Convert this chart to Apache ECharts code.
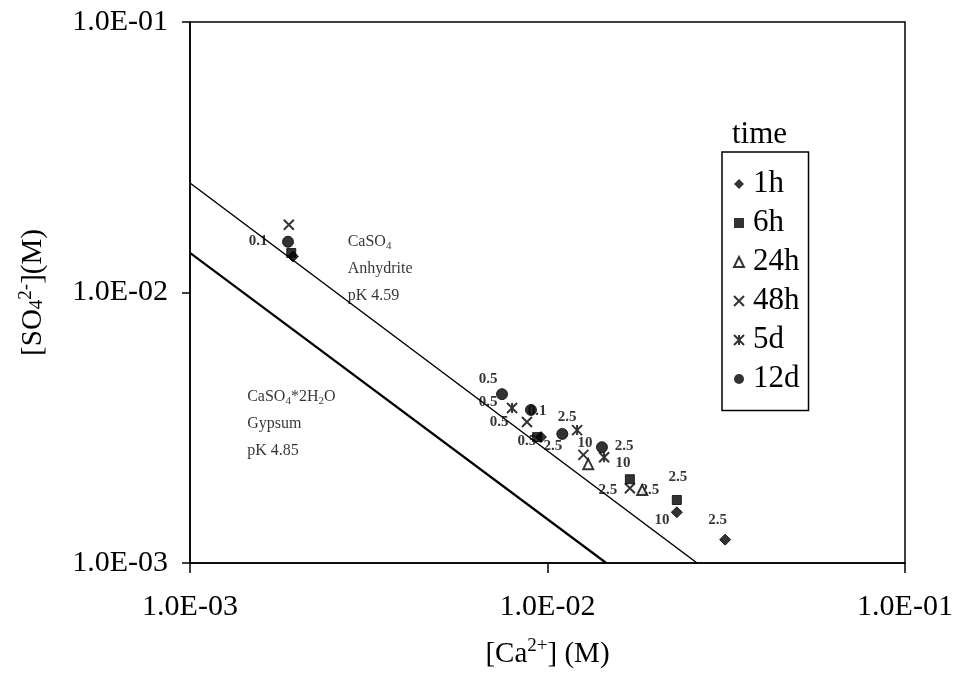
<!DOCTYPE html>
<html><head><meta charset="utf-8">
<script src="https://cdn.jsdelivr.net/npm/echarts@6/dist/echarts.min.js"></script>
<style>html,body{margin:0;padding:0;background:#fff}#c{width:953px;height:685px}</style>
</head><body><div id="c"></div>
<script>
// ---- data ----
const seriesNames = ['1h', '6h', '24h', '48h', '5d', '12d'];
const d1h  = [[1.94e-3, 1.36e-2], [9.59e-3, 2.92e-3], [2.30e-2, 1.54e-3], [3.14e-2, 1.22e-3]];
const d6h  = [[1.92e-3, 1.40e-2], [9.35e-3, 2.92e-3], [1.70e-2, 2.04e-3], [2.30e-2, 1.71e-3]];
const d24h = [[1.30e-2, 2.32e-3], [1.84e-2, 1.86e-3]];
const d48h = [[1.89e-3, 1.78e-2], [8.76e-3, 3.32e-3], [1.26e-2, 2.51e-3], [1.70e-2, 1.89e-3]];
const d5d  = [[7.96e-3, 3.74e-3], [1.21e-2, 3.10e-3], [1.44e-2, 2.46e-3]];
const d12d = [[1.88e-3, 1.54e-2], [7.46e-3, 4.21e-3], [8.99e-3, 3.68e-3], [1.10e-2, 3.00e-3], [1.42e-2, 2.68e-3]];
const anhydriteLine = [[1e-3, 2.54e-2], [2.62e-2, 1e-3]];
const gypsumLine    = [[1e-3, 1.40e-2], [1.46e-2, 1e-3]];
const pointLabels = [
  [1.55e-3, 1.55e-2, '0.1'],
  [6.82e-3, 4.79e-3, '0.5'],
  [6.82e-3, 3.94e-3, '0.5'],
  [7.32e-3, 3.32e-3, '0.5'],
  [9.35e-3, 3.65e-3, '0.1'],
  [8.76e-3, 2.82e-3, '0.5'],
  [1.036e-2, 2.71e-3, '2.5'],
  [1.134e-2, 3.46e-3, '2.5'],
  [1.273e-2, 2.78e-3, '10'],
  [1.637e-2, 2.71e-3, '2.5'],
  [1.626e-2, 2.34e-3, '10'],
  [1.476e-2, 1.86e-3, '2.5'],
  [1.935e-2, 1.86e-3, '2.5'],
  [2.317e-2, 2.08e-3, '2.5'],
  [2.09e-2, 1.44e-3, '10'],
  [2.99e-2, 1.44e-3, '2.5']
];
const annotations = [
  [2.77e-3, 1.717e-2, '{n|CaSO}{s|4}\n{n|Anhydrite}\n{n|pK 4.59}'],
  [1.45e-3, 4.59e-3, '{n|CaSO}{s|4}{n|*2H}{s|2}{n|O}\n{n|Gypsum}\n{n|pK 4.85}']
];

// ---- chart ----
const FONT = '"Liberation Serif", "Times New Roman", serif';
function expFmt(v) {
  const e = Math.round(Math.log10(v));
  return '1.0E' + (e < 0 ? '-' : '+') + String(Math.abs(e)).padStart(2, '0');
}
const symX = 'path://M0,0L10,10M10,0L0,10';
const symStar = 'path://M0,0L10,10M10,0L0,10M5,0L5,10';
const ptStyle = { color: '#000', borderColor: '#000' };
const chart = echarts.init(document.getElementById('c'), null, { renderer: 'canvas' });
const option = {
  animation: false,
  backgroundColor: '#fff',
  textStyle: { fontFamily: FONT },
  title: { text: 'time', left: 727, top: 114, textStyle: { fontFamily: FONT, fontSize: 31, fontWeight: 'normal', color: '#000' } },
  grid: { left: 190, right: 48, top: 22, bottom: 122, show: true, borderColor: '#000', borderWidth: 1.5,
    containLabel: false, outerBoundsMode: 'none' },
  legend: {
    data: seriesNames, orient: 'vertical', left: 722, top: 152,
    borderColor: '#000', borderWidth: 1.5, padding: [16.5, 9, 16, 11],
    itemGap: 8, itemWidth: 10, itemHeight: 10,
    textStyle: { fontFamily: FONT, fontSize: 31, color: '#000', padding: [0, 0, 0, 4] }
  },
  xAxis: {
    type: 'log', logBase: 10, min: 1e-3, max: 1e-1,
    axisLine: { lineStyle: { color: '#000', width: 1.5 } },
    axisTick: { show: true, length: 10, inside: false, lineStyle: { color: '#000', width: 1.5 } },
    minorTick: { show: false }, splitLine: { show: false },
    axisLabel: { formatter: expFmt, fontFamily: FONT, fontSize: 30, color: '#000', margin: 29 },
    name: '{n|[Ca}{p|2+}{n|] (M)}', nameLocation: 'middle', nameGap: 74,
    nameTextStyle: { rich: {
      n: { fontFamily: FONT, fontSize: 29, color: '#000', lineHeight: 34 },
      p: { fontFamily: FONT, fontSize: 19, color: '#000', verticalAlign: 'top', lineHeight: 34, padding: [0, 0, 10, 0] }
    } }
  },
  yAxis: {
    type: 'log', logBase: 10, min: 1e-3, max: 1e-1,
    axisLine: { lineStyle: { color: '#000', width: 1.5 } },
    axisTick: { show: true, length: 8, lineStyle: { color: '#000', width: 1.5 } },
    minorTick: { show: false }, splitLine: { show: false },
    axisLabel: { formatter: expFmt, fontFamily: FONT, fontSize: 30, color: '#000', margin: 22 },
    name: '{n|[SO}{b|4}{p|2-}{n|](M)}', nameLocation: 'middle', nameGap: 140, nameRotate: 90,
    nameTextStyle: { rich: {
      n: { fontFamily: FONT, fontSize: 29, color: '#000', lineHeight: 34 },
      b: { fontFamily: FONT, fontSize: 19, color: '#000', lineHeight: 34, padding: [8, 0, 0, 0] },
      p: { fontFamily: FONT, fontSize: 19, color: '#000', lineHeight: 34, padding: [0, 0, 14, 0] }
    } }
  },
  series: [
    { name: 'anhydrite', type: 'line', data: anhydriteLine, showSymbol: false, lineStyle: { color: '#000', width: 1.5 }, silent: true, z: 1 },
    { name: 'gypsum', type: 'line', data: gypsumLine, showSymbol: false, lineStyle: { color: '#000', width: 2.2 }, silent: true, z: 1 },
    { name: '1h', type: 'scatter', data: d1h, symbol: 'diamond', symbolSize: 11, itemStyle: ptStyle, z: 5 },
    { name: '6h', type: 'scatter', data: d6h, symbol: 'rect', symbolSize: 9, itemStyle: ptStyle, z: 5 },
    { name: '24h', type: 'scatter', data: d24h, symbol: 'triangle', symbolSize: 10, itemStyle: { color: '#fff', borderColor: '#000', borderWidth: 2 }, z: 5 },
    { name: '48h', type: 'scatter', data: d48h, symbol: symX, symbolSize: 10, itemStyle: { color: '#000', borderColor: '#000', borderWidth: 2 }, z: 5 },
    { name: '5d', type: 'scatter', data: d5d, symbol: symStar, symbolSize: 10, itemStyle: { color: '#000', borderColor: '#000', borderWidth: 2 }, z: 5 },
    { name: '12d', type: 'scatter', data: d12d, symbol: 'circle', symbolSize: 11, itemStyle: ptStyle, z: 5 },
    { name: 'labels', type: 'scatter', data: pointLabels, symbolSize: 1, itemStyle: { color: 'rgba(0,0,0,0)' }, silent: true, z: 4,
      label: { show: true, position: 'inside', formatter: p => p.data[2], fontFamily: FONT, fontSize: 15, fontWeight: 'bold', color: '#000' } },
    { name: 'annot', type: 'scatter', data: annotations, symbolSize: 1, itemStyle: { color: 'rgba(0,0,0,0)' }, silent: true, z: 4,
      label: { show: true, position: [0, 0], align: 'left', verticalAlign: 'top', formatter: p => p.data[2],
        rich: {
          n: { fontFamily: FONT, fontSize: 16, color: '#000', lineHeight: 27 },
          s: { fontFamily: FONT, fontSize: 11, color: '#000', lineHeight: 27, padding: [8, 0, 0, 0] }
        } } }
  ]
};
chart.setOption(option);
</script></body></html>
